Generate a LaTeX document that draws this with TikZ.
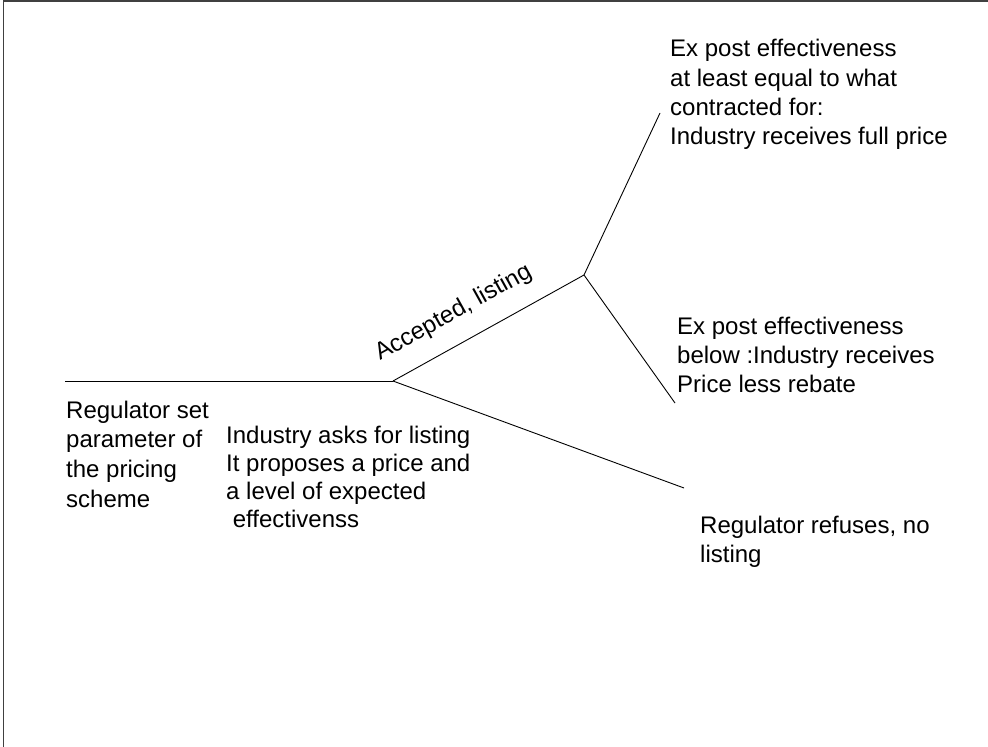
\documentclass[tikz,border=0pt]{standalone}
\usepackage{fontspec}
\setmainfont{Liberation Sans}
\begin{document}
\begin{tikzpicture}[x=1pt,y=-1pt,
  branch/.style={draw=black,line width=0.9pt},
  frame/.style={draw=black!75,line width=1.4pt},
  txt/.style={anchor=base west,inner sep=0pt,font=\fontsize{24}{#1}\selectfont},
  txt/.default=29.3]
\useasboundingbox (0,0) rectangle (988,747);
% frame edges
\draw[frame] (3.7,747) -- (3.7,1) -- (988,1);

% decision points and leaf ends
\coordinate (root) at (65,381);
\coordinate (ask) at (393,381);
\coordinate (accept) at (584,275);
\coordinate (full) at (660,113);
\coordinate (rebate) at (675,403);
\coordinate (refuse) at (684,488);

\draw[branch] (root) -- (ask);
\draw[branch] (ask) -- (accept);
\draw[branch] (ask) -- (refuse);
\draw[branch] (accept) -- (full);
\draw[branch] (accept) -- (rebate);

% labels
\node[txt=29.7] (regset) at (66,418)
  {\begin{tabular}[t]{@{}l@{}}Regulator set\\parameter of\\the pricing\\scheme\end{tabular}};
\node[txt=28] (asks) at (226,443)
  {\begin{tabular}[t]{@{}l@{}}Industry asks for listing\\It proposes a price and\\a level of expected\\\ effectivenss\end{tabular}};
\node[txt, rotate=29] (acclab) at (380,361) {Accepted, listing};
\node[txt=29.4] (fulllab) at (670,56.7)
  {\begin{tabular}[t]{@{}l@{}}Ex post effectiveness\\at least equal to what\\contracted for:\\Industry receives full price\end{tabular}};
\node[txt=29] (rebatelab) at (677,334.3)
  {\begin{tabular}[t]{@{}l@{}}Ex post effectiveness\\below :Industry receives\\Price less rebate\end{tabular}};
\node[txt=29] (refuselab) at (700,533)
  {\begin{tabular}[t]{@{}l@{}}Regulator refuses, no\\listing\end{tabular}};
\end{tikzpicture}
\end{document}
